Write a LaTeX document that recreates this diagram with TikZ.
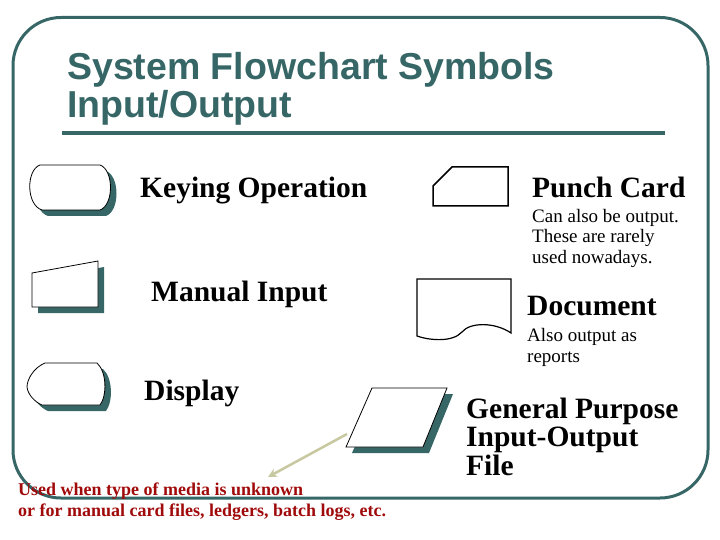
\documentclass[tikz,border=0pt]{standalone}
\usepackage{fontspec}
\setmainfont{Liberation Serif}
\setsansfont{Liberation Sans}
\usetikzlibrary{arrows.meta}
\definecolor{slate}{RGB}{54,102,102}
\definecolor{khaki}{RGB}{200,200,160}
\definecolor{brick}{RGB}{160,10,10}
\tikzstyle{sym}=[draw=black, fill=white, line width=0.8pt]
\tikzstyle{drop}=[fill=slate, shift={(6,6)}]
\tikzstyle{lbl}=[anchor=base west, inner sep=0pt, font=\fontsize{29.5}{31}\selectfont\bfseries]
\tikzstyle{sub}=[anchor=base west, inner sep=0pt, align=left, font=\fontsize{19}{20.5}\selectfont]
\tikzstyle{hint}=[draw=khaki, line width=2.5pt, -{Stealth[length=9pt,width=9pt]}]

\begin{document}
\begin{tikzpicture}[x=1pt, y=-1pt]
    \useasboundingbox (0,0) rectangle (720,540);
    \draw[slate, line width=3pt, rounded corners=48pt] (13,17.5) rectangle (708,498);
    % multi-line nodes sit on the baseline of their last line
    \node[anchor=base west, inner sep=0pt, text=slate, align=left,
          font=\sffamily\bfseries\fontsize{37.5}{38}\selectfont] (t) at (67,118)
          {System Flowchart Symbols\\Input/Output};
    \draw[slate, line width=3.5pt] (62,133) -- (665,133);

    % keying operation
    \fill[drop] (40,165) -- (100,165) .. controls (114,170) and (114,205) .. (100,210) -- (42,210) .. controls (26,205) and (26,170) .. cycle;
    \draw[sym] (40,165) -- (100,165) .. controls (114,170) and (114,205) .. (100,210) -- (42,210) .. controls (26,205) and (26,170) .. cycle;
    \node[lbl] (k) at (140,198) {Keying Operation};

    % manual input
    \fill[drop] (32,273) -- (98,261) -- (98,307) -- (32,307) -- cycle;
    \draw[sym] (32,273) -- (98,261) -- (98,307) -- (32,307) -- cycle;
    \node[lbl] (m) at (151,301) {Manual Input};

    % display
    \fill[drop] (45,363) -- (97,363) .. controls (107,372) and (107,396) .. (100,405) -- (42,405) .. controls (35,402) and (28,395) .. (27,387) .. controls (27,380) and (33,368) .. cycle;
    \draw[sym] (45,363) -- (97,363) .. controls (107,372) and (107,396) .. (100,405) -- (42,405) .. controls (35,402) and (28,395) .. (27,387) .. controls (27,380) and (33,368) .. cycle;
    \node[lbl] (d) at (144,400) {Display};

    % punch card
    \draw[sym, line width=1.5pt] (452,167) -- (508,167) -- (508,206) -- (433,206) -- (433,186) -- cycle;
    \node[lbl] (p) at (532,198) {Punch Card};
    \node[sub] (pn) at (532,263) {Can also be output.\\These are rarely\\used nowadays.};

    % document
    \draw[sym, line width=1.2pt] (417,279) -- (511,279) -- (511,333) .. controls (495,322) and (470,322) .. (462,332) .. controls (452,343) and (428,340) .. (417,336) -- cycle;
    \node[lbl] (doc) at (527,315) {Document};
    \node[sub] (dn) at (527,362) {Also output as\\reports};

    % general purpose file
    \fill[drop] (372,388) -- (447,388) -- (423,447) -- (346,447) -- cycle;
    \draw[sym] (372,388) -- (447,388) -- (423,447) -- (346,447) -- cycle;
    \node[lbl, align=left, font=\fontsize{29.5}{28.5}\selectfont\bfseries] (f) at (466,475) {General Purpose\\Input-Output\\File};

    \coordinate (file) at (347,434);
    \coordinate (note) at (268,477);
    \draw[hint] (file) -- (note);
    \node[anchor=base west, inner sep=0pt, align=left, text=brick,
          font=\fontsize{18}{21}\selectfont\bfseries] (u) at (18,516)
          {Used when type of media is unknown\\or for manual card files, ledgers, batch logs, etc.};
\end{tikzpicture}
\end{document}
